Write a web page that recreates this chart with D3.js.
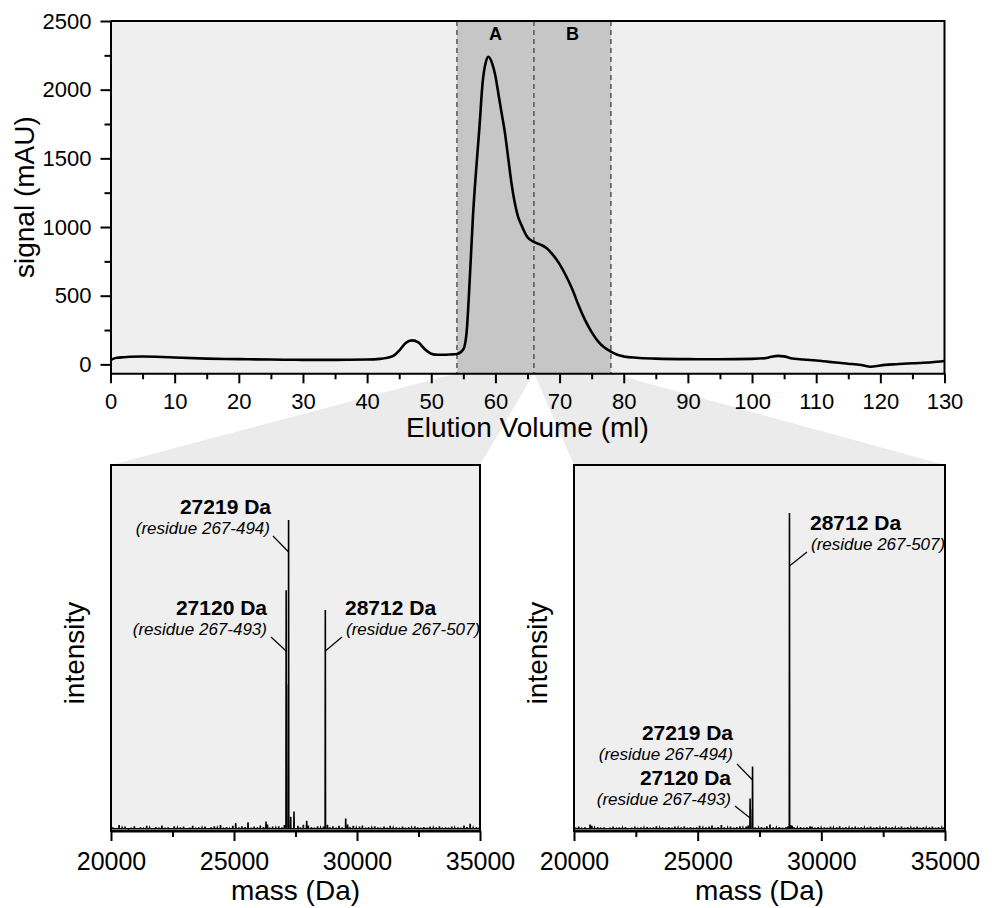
<!DOCTYPE html>
<html>
<head>
<meta charset="utf-8">
<script src="https://cdn.jsdelivr.net/npm/d3@7/dist/d3.min.js"></script>
<style>
  html, body { margin: 0; padding: 0; background: #ffffff; }
  svg { display: block; }
  text { font-family: "Liberation Sans", Arial, Helvetica, sans-serif; fill: #000; }
</style>
</head>
<body>
<svg id="chart" width="992" height="908"></svg>
<script>
// ---------------- DATA ----------------
// Chromatogram (elution volume in ml, signal in mAU)
const elutionVolume = [0, 0.5, 1, 2, 3, 5, 8, 10, 15, 20, 25, 30, 35, 40, 42, 44, 45, 46, 47, 48, 49, 50, 51, 52, 53, 54,
  55, 55.5, 56, 56.5, 57, 57.5, 58, 58.5, 58.9, 59.5, 60, 60.5, 61, 61.5, 62, 62.5, 63, 63.5, 64, 65, 66, 67, 68, 69, 70,
  71, 72, 73, 74, 75, 76, 77, 78, 79, 80, 82, 85, 90, 95, 100, 102, 103, 104, 105, 106, 108, 110, 112, 115, 117, 118.5,
  120, 122, 125, 128, 130];
const signal = [30, 42, 48, 52, 55, 57, 54, 50, 42, 38, 35, 33, 33, 35, 40, 60, 100, 155, 175, 160, 110, 78, 70, 70, 72, 75,
  110, 230, 620, 1080, 1420, 1720, 2050, 2200, 2240, 2190, 2100, 1960, 1820, 1680, 1500, 1320, 1180, 1080, 1020, 925, 892, 872, 846, 795, 730,
  645, 545, 425, 320, 235, 168, 122, 92, 70, 58, 48, 42, 38, 37, 40, 45, 55, 62, 58, 45, 35, 28, 18, 5, -5, -17,
  -8, 0, 8, 15, 24];

const volumeTicks = [0, 10, 20, 30, 40, 50, 60, 70, 80, 90, 100, 110, 120, 130];
const signalTicks = [0, 500, 1000, 1500, 2000, 2500];
const fractionBounds = [54, 66, 78];
const fractionNames = ["A", "B"];

// Mass spectra (mass in Da, relative intensity)
const massTicks = [20000, 25000, 30000, 35000];
const massMinorTicks = [22500, 27500, 32500];

const peaksA = [[27120, 65.8], [27132, 40], [27219, 85], [27305, 3.9], [27439, 5.3], [28712, 60.4]];
const noiseA = [[20080, 1.0], [20200, 0.6], [20330, 1.6], [20450, 0.8], [20570, 1.2], [20700, 0.5], [20820, 0.9],
  [20950, 1.3], [21070, 0.6], [21200, 1.0], [21320, 0.7], [21450, 1.4], [21570, 0.8], [21700, 0.6], [21820, 1.1],
  [21950, 0.9], [22070, 1.5], [22200, 0.7], [22320, 1.0], [22450, 0.6], [22570, 1.3], [22700, 0.8], [22820, 1.0],
  [22950, 1.2], [23070, 0.6], [23200, 0.9], [23320, 1.4], [23450, 0.7], [23570, 1.0], [23700, 0.8], [23820, 1.2],
  [23950, 0.6], [24070, 1.0], [24200, 1.3], [24320, 0.8], [24450, 1.6], [24570, 0.9], [24700, 1.1], [24820, 0.7],
  [24950, 1.4], [25070, 2.2], [25200, 1.0], [25320, 1.3], [25450, 1.1], [25570, 2.4], [25700, 0.9], [25820, 1.2],
  [25950, 1.0], [26070, 1.5], [26200, 1.1], [26300, 2.6], [26360, 1.8], [26450, 0.9], [26570, 1.2], [26700, 0.8],
  [26820, 1.3], [26950, 1.0], [27050, 1.6], [27600, 1.4], [27700, 1.0], [27820, 1.7], [27955, 2.8], [28020, 1.5],
  [28150, 1.1], [28270, 0.9], [28400, 1.3], [28520, 0.8], [28640, 1.2], [28800, 1.7], [28900, 1.0], [29020, 1.3],
  [29150, 0.9], [29270, 1.4], [29400, 1.0], [29541, 3.4], [29620, 1.8], [29720, 1.1], [29850, 1.4], [29970, 0.8],
  [30100, 1.2], [30220, 1.5], [30350, 0.9], [30470, 1.1], [30600, 0.8], [30720, 1.3], [30850, 1.0], [30970, 0.7],
  [31100, 1.2], [31220, 0.9], [31350, 1.4], [31470, 0.8], [31600, 1.0], [31720, 0.7], [31850, 1.2], [31970, 0.9],
  [32100, 1.1], [32220, 0.8], [32350, 1.3], [32470, 1.0], [32600, 0.7], [32720, 1.1], [32850, 0.9], [32970, 1.2],
  [33100, 0.8], [33220, 1.0], [33350, 1.3], [33470, 0.7], [33600, 1.0], [33720, 0.9], [33850, 1.2], [33970, 0.8],
  [34100, 1.0], [34220, 0.9], [34350, 1.5], [34470, 1.1], [34600, 2.0], [34720, 0.8], [34850, 1.0], [34950, 0.9]];

const peaksB = [[27120, 8.9], [27132, 6.0], [27219, 17.6], [27924, 1.8], [28712, 86.9], [28760, 1.6], [29542, 1.3]];
const noiseB = [[20070, 0.9], [20190, 1.2], [20310, 0.7], [20440, 1.0], [20560, 0.6], [20650, 1.8], [20720, 1.4],
  [20830, 0.8], [20960, 1.1], [21080, 0.7], [21210, 1.0], [21330, 0.6], [21460, 0.9], [21580, 1.2], [21710, 0.7],
  [21830, 1.0], [21960, 0.8], [22080, 1.1], [22210, 0.6], [22330, 0.9], [22460, 1.2], [22580, 0.7], [22710, 1.0],
  [22830, 0.8], [22960, 1.1], [23080, 0.7], [23210, 1.0], [23330, 1.3], [23460, 0.8], [23580, 1.0], [23710, 0.7],
  [23830, 1.1], [23960, 0.9], [24080, 1.2], [24210, 0.8], [24330, 1.0], [24460, 1.3], [24580, 0.9], [24710, 1.1],
  [24830, 0.7], [24960, 1.0], [25080, 1.4], [25210, 0.8], [25330, 1.0], [25460, 1.2], [25580, 1.5], [25710, 0.9],
  [25830, 1.1], [25960, 1.6], [26080, 1.0], [26210, 0.8], [26330, 1.2], [26460, 0.9], [26580, 1.1], [26710, 1.3],
  [26830, 0.8], [26960, 1.2], [27040, 1.5], [27330, 1.0], [27460, 0.8], [27580, 1.1], [27700, 0.9], [27800, 1.3],
  [28050, 1.0], [28180, 0.8], [28300, 1.1], [28430, 0.9], [28560, 1.0], [28640, 1.2], [28820, 1.4], [28900, 1.0],
  [29030, 0.8], [29160, 1.1], [29290, 0.9], [29420, 1.0], [29620, 1.2], [29740, 0.9], [29870, 1.1], [29990, 0.8],
  [30120, 1.0], [30240, 0.9], [30370, 1.2], [30490, 0.8], [30620, 1.0], [30740, 1.3], [30870, 0.9], [30990, 1.1],
  [31120, 0.8], [31240, 1.0], [31370, 1.2], [31490, 0.9], [31620, 1.1], [31740, 0.8], [31870, 1.0], [31990, 1.2],
  [32120, 0.9], [32240, 1.1], [32370, 0.8], [32490, 1.0], [32620, 1.2], [32740, 0.9], [32870, 1.1], [32990, 0.8],
  [33120, 1.0], [33240, 1.2], [33370, 0.9], [33490, 1.1], [33620, 0.8], [33740, 1.0], [33870, 1.2], [33990, 0.9],
  [34120, 1.1], [34240, 0.8], [34370, 1.0], [34490, 1.2], [34620, 0.9], [34740, 1.1], [34870, 0.8], [34960, 1.0]];

const labelsA = [
  { mass: 27219, name: "27219 Da", residue: "(residue 267-494)" },
  { mass: 27120, name: "27120 Da", residue: "(residue 267-493)" },
  { mass: 28712, name: "28712 Da", residue: "(residue 267-507)" }
];
const labelsB = [
  { mass: 28712, name: "28712 Da", residue: "(residue 267-507)" },
  { mass: 27219, name: "27219 Da", residue: "(residue 267-494)" },
  { mass: 27120, name: "27120 Da", residue: "(residue 267-493)" }
];

// ---------------- LAYOUT ----------------
const svg = d3.select("#chart");
const tp = { left: 110.5, right: 944.5, top: 21, bottom: 373.3 };
const panelA = { left: 111, right: 480, top: 465, bottom: 831 };
const panelB = { left: 574, right: 945, top: 465, bottom: 831 };
const FONT = "Liberation Sans, Arial, sans-serif";

const x = d3.scaleLinear().domain([0, 130]).range([tp.left, tp.right]);
const y = d3.scaleLinear().domain([-65, 2500]).range([tp.bottom, tp.top]);

// Zoom fans (behind everything)
const fanColor = "#ebebeb";
const fans = svg.append("g");
fans.append("polygon")
  .attr("points", [[x(fractionBounds[0]), tp.bottom], [x(fractionBounds[1]), tp.bottom],
                   [panelA.right, panelA.top], [panelA.left, panelA.top]].map(p => p.join(",")).join(" "))
  .attr("fill", fanColor);
fans.append("polygon")
  .attr("points", [[x(fractionBounds[1]), tp.bottom], [x(fractionBounds[2]), tp.bottom],
                   [panelB.right, panelB.top], [panelB.left, panelB.top]].map(p => p.join(",")).join(" "))
  .attr("fill", fanColor);

// ---------------- TOP CHART ----------------
const gTop = svg.append("g");
gTop.append("rect")
  .attr("x", tp.left).attr("y", tp.top)
  .attr("width", tp.right - tp.left).attr("height", tp.bottom - tp.top)
  .attr("fill", "#efefef");

gTop.append("rect")
  .attr("x", x(fractionBounds[0])).attr("y", tp.top)
  .attr("width", x(fractionBounds[2]) - x(fractionBounds[0])).attr("height", tp.bottom - tp.top)
  .attr("fill", "#c6c6c6");

fractionBounds.forEach(v => {
  gTop.append("line")
    .attr("x1", x(v)).attr("x2", x(v))
    .attr("y1", tp.top).attr("y2", tp.bottom)
    .attr("stroke", "#555").attr("stroke-width", 1.5)
    .attr("stroke-dasharray", "5,4");
});

fractionNames.forEach((n, i) => {
  gTop.append("text")
    .attr("x", x((fractionBounds[i] + fractionBounds[i + 1]) / 2))
    .attr("y", 40)
    .attr("text-anchor", "middle")
    .attr("font-size", 18)
    .attr("font-weight", "bold")
    .text(n);
});

const line = d3.line()
  .x((d, i) => x(elutionVolume[i]))
  .y(d => y(d))
  .curve(d3.curveMonotoneX);
gTop.append("path")
  .datum(signal)
  .attr("d", line)
  .attr("fill", "none")
  .attr("stroke", "#000")
  .attr("stroke-width", 2.6)
  .attr("stroke-linejoin", "round");

// frame top/right
gTop.append("path")
  .attr("d", `M${tp.left},${tp.top}H${tp.right}V${tp.bottom}`)
  .attr("fill", "none").attr("stroke", "#000").attr("stroke-width", 2);

// x axis
const xAxis = gTop.append("g")
  .attr("transform", `translate(0,${tp.bottom})`)
  .call(d3.axisBottom(x).tickValues(volumeTicks).tickSize(10).tickSizeOuter(0).tickFormat(d3.format("d")));
gTop.append("g")
  .attr("transform", `translate(0,${tp.bottom})`)
  .call(d3.axisBottom(x).tickValues(volumeTicks.slice(0, -1).map(v => v + 5)).tickSize(6).tickSizeOuter(0).tickFormat(""))
  .call(g => g.select(".domain").remove());
// y axis
const yAxis = gTop.append("g")
  .attr("transform", `translate(${tp.left},0)`)
  .call(d3.axisLeft(y).tickValues(signalTicks).tickSize(10).tickSizeOuter(0).tickFormat(d3.format("d")));
gTop.append("g")
  .attr("transform", `translate(${tp.left},0)`)
  .call(d3.axisLeft(y).tickValues(signalTicks.slice(0, -1).map(v => v + 250)).tickSize(6).tickSizeOuter(0).tickFormat(""))
  .call(g => g.select(".domain").remove());

gTop.selectAll(".domain").attr("stroke-width", 2).attr("stroke", "#000");
gTop.selectAll(".tick line").attr("stroke-width", 2).attr("stroke", "#000");
xAxis.selectAll(".tick text").attr("font-size", 22).attr("font-family", FONT).attr("fill", "#000")
  .attr("dy", null).attr("y", 36);
yAxis.selectAll(".tick text").attr("font-size", 22).attr("font-family", FONT).attr("fill", "#000")
  .attr("x", -19);

gTop.append("text")
  .attr("x", (tp.left + tp.right) / 2).attr("y", 437)
  .attr("text-anchor", "middle").attr("font-size", 28)
  .text("Elution Volume (ml)");
gTop.append("text")
  .attr("transform", `translate(34,${(tp.top + tp.bottom) / 2}) rotate(-90)`)
  .attr("text-anchor", "middle").attr("font-size", 28)
  .text("signal (mAU)");

// ---------------- MASS SPECTRA ----------------
function drawSpectrum(panel, peaks, noise, labels, layout) {
  const g = svg.append("g");
  const xm = d3.scaleLinear().domain([20000, 35000]).range([panel.left, panel.right]);
  const yi = d3.scaleLinear().domain([0, 100]).range([panel.bottom, panel.top]);

  g.append("rect")
    .attr("x", panel.left).attr("y", panel.top)
    .attr("width", panel.right - panel.left).attr("height", panel.bottom - panel.top)
    .attr("fill", "#efefef");

  const all = peaks.concat(noise).sort((a, b) => a[0] - b[0]);
  const base = 0.6;
  const pts = [[20000, base]];
  all.forEach(([m, h]) => {
    pts.push([m - 8, base]); pts.push([m, h]); pts.push([m + 8, base]);
  });
  pts.push([35000, base]);
  g.append("path")
    .attr("d", d3.line().x(d => xm(d[0])).y(d => yi(d[1]))(pts))
    .attr("fill", "none").attr("stroke", "#000").attr("stroke-width", 1.6);

  // frame
  g.append("rect")
    .attr("x", panel.left).attr("y", panel.top)
    .attr("width", panel.right - panel.left).attr("height", panel.bottom - panel.top)
    .attr("fill", "none").attr("stroke", "#000").attr("stroke-width", 2);

  const ax = g.append("g")
    .attr("transform", `translate(0,${panel.bottom})`)
    .call(d3.axisBottom(xm).tickValues(massTicks).tickSize(10).tickSizeOuter(0).tickFormat(d3.format("d")));
  g.append("g")
    .attr("transform", `translate(0,${panel.bottom})`)
    .call(d3.axisBottom(xm).tickValues(massMinorTicks).tickSize(6).tickSizeOuter(0).tickFormat(""))
    .call(s => s.select(".domain").remove());
  g.selectAll(".domain").attr("stroke-width", 2);
  g.selectAll(".tick line").attr("stroke-width", 2).attr("stroke", "#000");
  ax.selectAll(".tick text").attr("font-size", 25).attr("font-family", FONT)
    .attr("fill", "#000").attr("dy", null).attr("y", 39);

  g.append("text")
    .attr("x", (panel.left + panel.right) / 2).attr("y", 900)
    .attr("text-anchor", "middle").attr("font-size", 28)
    .text("mass (Da)");
  g.append("text")
    .attr("transform", `translate(${panel.left - 27},653) rotate(-90)`)
    .attr("text-anchor", "middle").attr("font-size", 28)
    .text("intensity");

  labels.forEach((lab, i) => {
    const L = layout[i];
    g.append("text")
      .attr("x", L.tx).attr("y", L.ty)
      .attr("text-anchor", L.anchor).attr("font-size", 21).attr("font-weight", "bold")
      .text(lab.name);
    g.append("text")
      .attr("x", L.tx + L.rdx).attr("y", L.ty + 19.5)
      .attr("text-anchor", L.anchor).attr("font-size", 17).attr("font-style", "italic")
      .text(lab.residue);
    g.append("line")
      .attr("x1", L.lx).attr("y1", L.ly)
      .attr("x2", xm(lab.mass)).attr("y2", L.ey)
      .attr("stroke", "#000").attr("stroke-width", 1.2);
  });
}

drawSpectrum(panelA, peaksA, noiseA, labelsA, [
  { tx: 271, ty: 514, anchor: "end", rdx: -1, lx: 273, ly: 536, ey: 552 },
  { tx: 267, ty: 615, anchor: "end", rdx: 0, lx: 271, ly: 637, ey: 651 },
  { tx: 345, ty: 615, anchor: "start", rdx: 1, lx: 342, ly: 637, ey: 651 }
]);
drawSpectrum(panelB, peaksB, noiseB, labelsB, [
  { tx: 810, ty: 530, anchor: "start", rdx: 1, lx: 807, ly: 552, ey: 566 },
  { tx: 733, ty: 740, anchor: "end", rdx: 0, lx: 737, ly: 764, ey: 780 },
  { tx: 731, ty: 785, anchor: "end", rdx: 0, lx: 735, ly: 806, ey: 818 }
]);
</script>
</body>
</html>
